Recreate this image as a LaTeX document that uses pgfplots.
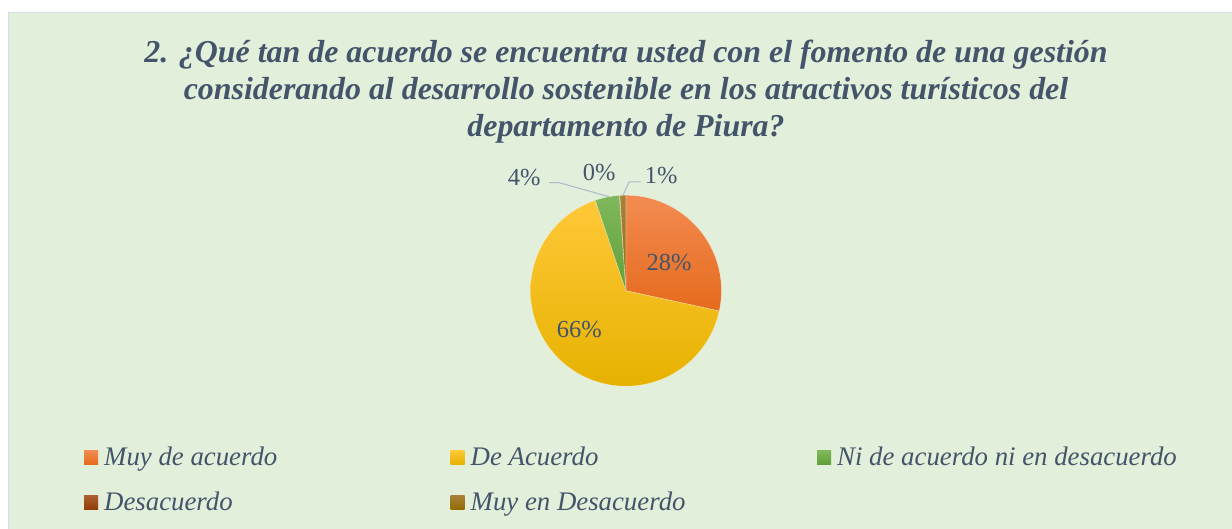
\documentclass[border=0pt]{standalone}
\usepackage{fontspec}
\setmainfont{Liberation Serif}
\usepackage{pgfplots}
\usepackage{pgfplotstable}
\pgfplotsset{compat=1.18}
\definecolor{bg}{HTML}{E2EFDA}
\definecolor{bgborder}{HTML}{D6DCE4}
\definecolor{txt}{HTML}{44546A}
\definecolor{leader}{HTML}{ADB9CA}
\definecolor{c0t}{HTML}{F38C52}\definecolor{c0b}{HTML}{E56A1C}
\definecolor{c1t}{HTML}{FFC838}\definecolor{c1b}{HTML}{E6B200}
\definecolor{c2t}{HTML}{7FB85C}\definecolor{c2b}{HTML}{62A038}
\definecolor{c3t}{HTML}{AD5F33}\definecolor{c3b}{HTML}{933D08}
\definecolor{c4t}{HTML}{A8823A}\definecolor{c4b}{HTML}{926C00}
\tikzset{
  slice0/.style={top color=c0t, bottom color=c0b},
  slice1/.style={top color=c1t, bottom color=c1b},
  slice2/.style={top color=c2t, bottom color=c2b},
  slice3/.style={top color=c3t, bottom color=c3b},
  slice4/.style={top color=c4t, bottom color=c4b},
}
\pgfplotstableread[col sep=comma]{
label,value
Muy de acuerdo,28.4
De Acuerdo,66.4
Ni de acuerdo ni en desacuerdo,4.1
Desacuerdo,0.1
Muy en Desacuerdo,1.0
}\pietable
\begin{document}
\begin{tikzpicture}[x=1bp,y=1bp]
\fill[white] (0,0) rectangle (1232,529);
\useasboundingbox (0,0) rectangle (1232,529);
\filldraw[fill=bg, draw=bgborder, line width=0.8bp] (8.4,-1) rectangle (1233,516.4);
\begin{axis}[at={(655.4,249.5)}, anchor=origin, scale only axis,
  width=191bp, height=191bp, xmin=-1, xmax=1, ymin=-1, ymax=1,
  hide axis, clip=false,
  legend columns=3, legend cell align=left,
  legend image code/.code={\path[#1, draw=none] (0bp,-4.5bp) rectangle (14bp,9.5bp);},
  legend style={at={(axis cs:-5.672,-1.644)}, anchor=north west,
    draw=none, fill=none, inner sep=0pt, outer sep=0pt, row sep=21bp,
    font=\fontsize{26.8bp}{30bp}\selectfont\itshape, text=txt,
    nodes={inner xsep=0pt, inner ysep=0pt, text height=18bp, text depth=6bp},
    /tikz/every odd column/.append style={column sep=6bp}},
]
\def\cum{0}
\pgfplotsforeachungrouped \i in {0,...,4}{%
  \pgfplotstablegetelem{\i}{value}\of\pietable
  \let\val\pgfplotsretval
  \pgfmathsetmacro\a{90-3.6*\cum}%
  \pgfmathsetmacro\cumnew{\cum+\val}%
  \pgfmathsetmacro\b{90-3.6*\cumnew}%
  \let\cum\cumnew
  \edef\doplot{\noexpand\addplot[slice\i, draw=white, draw opacity=0.5, line width=0.4bp, forget plot, domain=\b:\a, samples=90]
    ({cos(x)},{sin(x)}) -- (axis cs:0,0) -- cycle;}%
  \doplot
}
\addlegendimage{slice0}\addlegendentry{\makebox[346.5bp][l]{Muy de acuerdo}}
\addlegendimage{slice1}\addlegendentry{\makebox[346.5bp][l]{De Acuerdo}}
\addlegendimage{slice2}\addlegendentry{\makebox[346.5bp][l]{Ni de acuerdo ni en desacuerdo}}
\addlegendimage{slice3}\addlegendentry{\makebox[346.5bp][l]{Desacuerdo}}
\addlegendimage{slice4}\addlegendentry{\makebox[346.5bp][l]{Muy en Desacuerdo}}
% leader lines
\draw[leader, line width=1bp] (axis cs:-0.803,1.131) -- (axis cs:-0.698,1.131) -- (axis cs:-0.175,0.984);
\draw[leader, line width=1bp] (axis cs:0.157,1.141) -- (axis cs:0.035,1.141) -- (axis cs:-0.031,1.0);
% data labels
\begin{scope}[every node/.style={text=txt, font=\fontsize{24.5bp}{28bp}\selectfont, inner sep=0pt}]
\node at (axis cs:0.453,0.293) {28\%};
\node at (axis cs:-0.489,-0.408) {66\%};
\node at (axis cs:-1.065,1.183) {4\%};
\node at (axis cs:-0.279,1.236) {0\%};
\node at (axis cs:0.370,1.204) {1\%};
\end{scope}
\end{axis}
\begin{scope}[every node/.style={text=txt, font=\fontsize{31.9bp}{37bp}\selectfont\bfseries\itshape, inner sep=0pt, anchor=base}]
\node at (626,466) {2. ¿Qué tan de acuerdo se encuentra usted con el fomento de una gestión};
\node at (626,429) {considerando al desarrollo sostenible en los atractivos turísticos del};
\node at (626,392) {departamento de Piura?};
\end{scope}
\end{tikzpicture}
\end{document}
